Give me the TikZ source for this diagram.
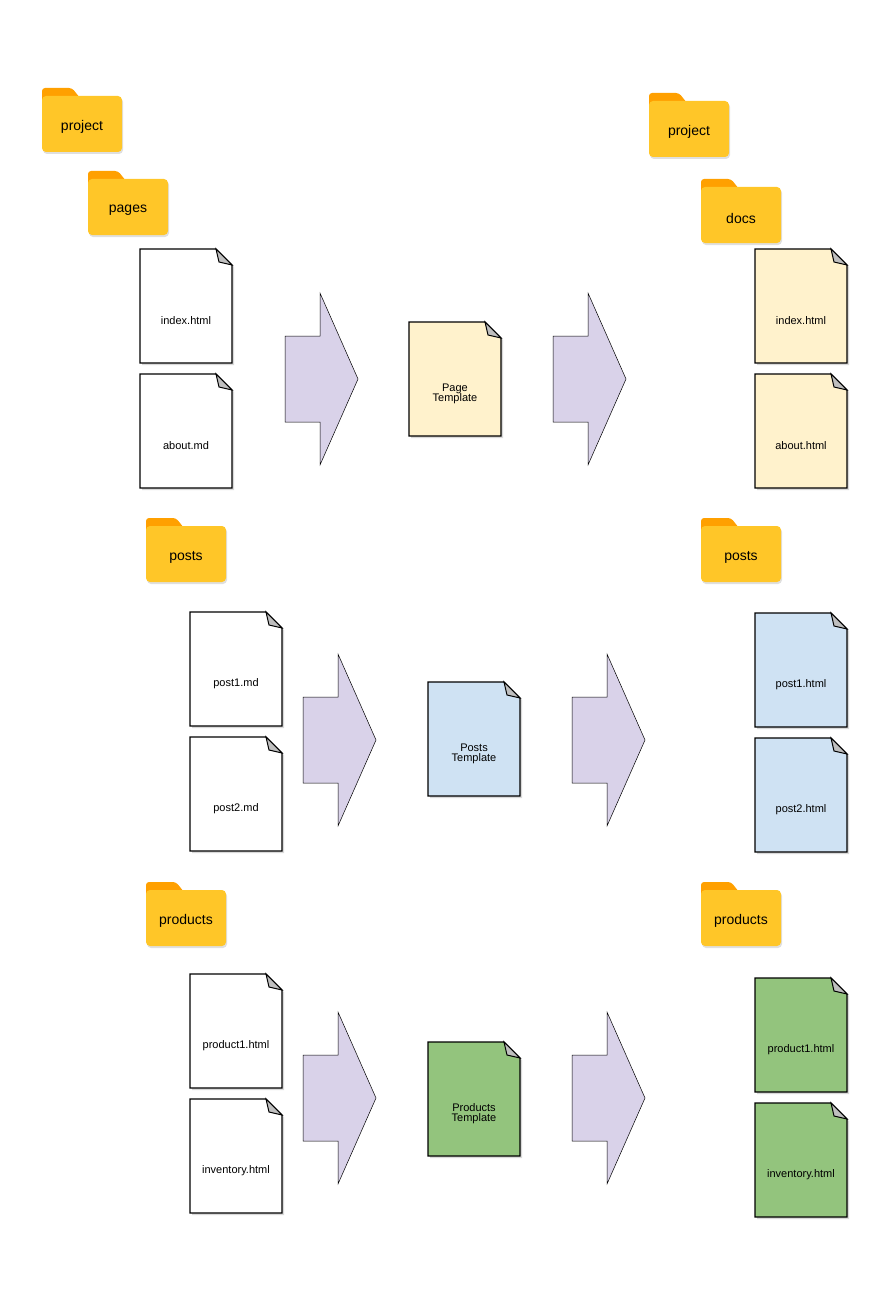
\documentclass[tikz,border=0pt]{standalone}
\usepackage{fontspec}
\setmainfont{Liberation Sans}
\usetikzlibrary{shadows}
\definecolor{ftab}{HTML}{FFA000}
\definecolor{fbody}{HTML}{FFC628}
\definecolor{cyel}{HTML}{FFF2CC}
\definecolor{cblue}{HTML}{CFE2F3}
\definecolor{cgreen}{HTML}{93C47D}
\definecolor{carrow}{HTML}{D9D2E9}
\tikzset{
  folderbody/.style={fill=fbody,draw=none,rounded corners=4pt,drop shadow={opacity=0.25,shadow xshift=1pt,shadow yshift=-2pt}},
  foldertab/.style={fill=ftab,draw=none,rounded corners=3pt},
  foldertext/.style={font=\fontsize{14}{16}\selectfont},
  docshape/.style={draw=black,line width=1.3pt,line join=miter,drop shadow={opacity=0.3,shadow xshift=2pt,shadow yshift=-2pt}},
  doctext/.style={font=\fontsize{11}{12}\selectfont,align=center},
  barrow/.style={fill=carrow,draw=black,line width=0.5pt,line join=miter},
}
% folder: name, x, y(body top), text ; width 80, height 56
\newcommand{\myfolder}[4]{%
  \fill[foldertab] (#2,#3+10) -- (#2,#3-8) -- (#2+30,#3-8) -- (#2+38,#3+2) -- (#2+38,#3+10) -- cycle;
  \path[folderbody] (#2,#3) rectangle (#2+80,#3+56);
  \node[foldertext] (#1) at (#2+40,#3+31) {#4};
}
% doc: name, x, y, fill, text ; 92 x 114
\newcommand{\mydoc}[5]{%
  \path[docshape,fill=#4] (#2,#3) -- (#2+76,#3) -- (#2+92,#3+16) -- (#2+92,#3+114) -- (#2,#3+114) -- cycle;
  \filldraw[fill=black!25,draw=black,line width=1pt,line join=miter] (#2+76,#3) -- (#2+79,#3+13) -- (#2+92,#3+16) -- cycle;
  \node[doctext] (#1) at (#2+46,#3+72) {#5};
}
% arrow: x, y(mid)
\newcommand{\myarrow}[2]{%
  \path[barrow] (#1,#2-43) -- (#1+35,#2-43) -- (#1+35,#2-86) -- (#1+73,#2) -- (#1+35,#2+86) -- (#1+35,#2+43) -- (#1,#2+43) -- cycle;
}
\begin{document}
\begin{tikzpicture}[x=1pt,y=-1pt]
\useasboundingbox (0,0) rectangle (884,1300);
\myfolder{fproj}{42}{96}{project}
\myfolder{fpages}{88}{179}{pages}
\myfolder{fposts}{146}{526}{posts}
\myfolder{fprod}{146}{890}{products}
\myfolder{gproj}{649}{101}{project}
\myfolder{gdocs}{701}{187}{docs}
\myfolder{gposts}{701}{526}{posts}
\myfolder{gprod}{701}{890}{products}

\mydoc{dindex}{140}{249}{white}{index.html}
\mydoc{dabout}{140}{374}{white}{about.md}
\mydoc{dpost1}{190}{612}{white}{post1.md}
\mydoc{dpost2}{190}{737}{white}{post2.md}
\mydoc{dprod1}{190}{974}{white}{product1.html}
\mydoc{dinv}{190}{1099}{white}{inventory.html}

\mydoc{tpage}{409}{322}{cyel}{Page\\[-2pt]Template}
\mydoc{tposts}{428}{682}{cblue}{Posts\\[-2pt]Template}
\mydoc{tprod}{428}{1042}{cgreen}{Products\\[-2pt]Template}

\mydoc{oindex}{755}{249}{cyel}{index.html}
\mydoc{oabout}{755}{374}{cyel}{about.html}
\mydoc{opost1}{755}{613}{cblue}{post1.html}
\mydoc{opost2}{755}{738}{cblue}{post2.html}
\mydoc{oprod1}{755}{978}{cgreen}{product1.html}
\mydoc{oinv}{755}{1103}{cgreen}{inventory.html}

\myarrow{285}{379}
\myarrow{553}{379}
\myarrow{303}{740}
\myarrow{572}{740}
\myarrow{303}{1098}
\myarrow{572}{1098}
\end{tikzpicture}
\end{document}
